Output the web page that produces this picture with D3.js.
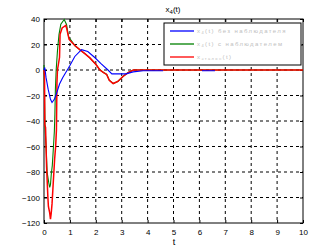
<!DOCTYPE html>
<html>
<head>
<meta charset="utf-8">
<script src="https://cdn.jsdelivr.net/npm/d3@7"></script>
<style>
  body { margin: 0; background: #fff; }
  svg { display: block; font-family: "Liberation Sans", Arial, sans-serif; }
</style>
</head>
<body>
<svg id="chart" width="336" height="252"></svg>
<script>
// values
const xTicks = [0, 1, 2, 3, 4, 5, 6, 7, 8, 9, 10];
const yTicks = [-120, -100, -80, -60, -40, -20, 0, 20, 40];

// x4(t) without observer (blue)
const blueT = [0, 0.03, 0.08, 0.16, 0.25, 0.31, 0.4, 0.49, 0.6, 0.72, 0.84, 0.9, 1.0, 1.19, 1.45, 1.69, 1.96, 2.2, 2.47, 2.62, 3.17, 3.44, 3.83, 4.6, null, 6.1, 6.6];
const blueV = [0, 2, -6, -15, -23, -25.5, -23, -18, -11, -6, -2, 0, 3.5, 10.6, 16, 14.5, 9.8, 5, 0, -3, -3, -1.5, 0, 0, null, 0, 0];

// x4(t) with observer (green)
const greenT = [0, 0.02, 0.04, 0.08, 0.12, 0.18, 0.22, 0.25, 0.28, 0.32, 0.36, 0.4, 0.42, 0.44, 0.47, 0.52, 0.58, 0.65, 0.78, 0.87, 0.95, 1.2, 1.38, 1.6, 1.77, 2.0, 2.16, 2.3, 2.42, 2.52, 2.67, 2.85, 3.06, 3.25, 3.45, 10];
const greenV = [4, -20, -45, -60, -80, -88, -92, -90, -82, -75, -62, -48, -35, -15, 0, 15, 28, 36, 39.6, 35.7, 26, 19, 16, 12.5, 9.5, 4.5, 0, -2, -3.5, -8, -10.6, -9, -4.9, -2, 0, 0];

// reference (red)
const redT = [0, 0.02, 0.03, 0.06, 0.1, 0.15, 0.17, 0.22, 0.25, 0.28, 0.31, 0.35, 0.41, 0.45, 0.48, 0.5, 0.52, 0.6, 0.62, 0.7, 0.84, 0.87, 0.97, 1.2, 1.38, 1.6, 1.77, 2.0, 2.16, 2.3, 2.42, 2.52, 2.67, 2.85, 3.06, 3.25, 3.45, 10];
const redV = [0, -5, -43, -45, -76, -100, -107, -112, -117, -112, -105, -91, -70, -60, -47, -10, 0, 10, 28, 33, 35, 33, 24, 19, 16, 12.5, 9.5, 4.5, 0, -2, -3.5, -8, -10.6, -9, -4.9, -2, 0, 0];

const legendLabels = ["без наблюдателя", "с наблюдателем", ""];

const svg = d3.select("#chart");
const margin = { top: 19, right: 33, bottom: 29, left: 44 };
const width = 336 - margin.left - margin.right;
const height = 252 - margin.top - margin.bottom;

const x = d3.scaleLinear().domain([0, 10]).range([0, width]);
const y = d3.scaleLinear().domain([-120, 40]).range([height, 0]);

const g = svg.append("g").attr("transform", `translate(${margin.left},${margin.top})`);

// dashed grid
g.selectAll(".vgrid").data(xTicks.slice(1, -1)).enter().append("line")
  .attr("x1", d => x(d)).attr("x2", d => x(d))
  .attr("y1", 0).attr("y2", height)
  .attr("stroke", "#000").attr("stroke-dasharray", "3,3");
g.selectAll(".hgrid").data(yTicks.slice(1, -1)).enter().append("line")
  .attr("y1", d => y(d)).attr("y2", d => y(d))
  .attr("x1", 0).attr("x2", width)
  .attr("stroke", "#000").attr("stroke-dasharray", "3,3");

// axes
g.append("g").attr("transform", `translate(0,${height})`)
  .call(d3.axisBottom(x).tickValues(xTicks).tickSize(-3).tickPadding(6));
g.append("g")
  .call(d3.axisLeft(y).tickValues(yTicks).tickSize(-3).tickPadding(4));
g.append("g").call(d3.axisTop(x).tickValues(xTicks).tickSize(-3).tickFormat(""));
g.append("g").attr("transform", `translate(${width},0)`)
  .call(d3.axisRight(y).tickValues(yTicks).tickSize(-3).tickFormat(""));
g.selectAll(".domain").remove();
g.selectAll(".tick text").attr("font-size", 8).attr("fill", "#000")
  .attr("font-family", "Liberation Sans, Arial, sans-serif");

g.append("rect").attr("width", width).attr("height", height)
  .attr("fill", "none").attr("stroke", "#000");

// curves
const line = d3.line()
  .defined(d => d[0] !== null)
  .x(d => x(d[0])).y(d => y(d[1]));
const plot = g.append("g");
plot.append("path").datum(d3.zip(greenT, greenV))
  .attr("d", line).attr("fill", "none").attr("stroke", "#008000").attr("stroke-width", 1.1);
plot.append("path").datum(d3.zip(redT, redV))
  .attr("d", line).attr("fill", "none").attr("stroke", "#ff0000").attr("stroke-width", 1.5);
plot.append("path").datum(d3.zip(blueT, blueV).map(d => d[0] === null ? d : [d[0], d[1] - (d[0] > 3.8 ? 0.6 : 0)]))
  .attr("d", line).attr("fill", "none").attr("stroke", "#0000ff").attr("stroke-width", 1.1);

// title and x label
const title = svg.append("text").attr("x", 173).attr("y", 12)
  .attr("text-anchor", "middle").attr("font-size", 8);
title.append("tspan").text("x");
title.append("tspan").attr("font-size", 6).attr("dy", 2).text("4");
title.append("tspan").attr("dy", -2).text("(t)");

svg.append("text").attr("x", 174).attr("y", 245)
  .attr("text-anchor", "middle").attr("font-size", 9).text("t");

// legend
const legend = svg.append("g").attr("transform", "translate(164,23)");
legend.append("rect").attr("width", 137).attr("height", 42)
  .attr("fill", "#fff").attr("stroke", "#000");
const legendColors = ["#0000ff", "#008000", "#ff0000"];
legendColors.forEach((c, i) => {
  const ly = 8 + i * 13;
  legend.append("line").attr("x1", 6).attr("x2", 30).attr("y1", ly).attr("y2", ly)
    .attr("stroke", c).attr("stroke-width", 1.3);
  const t = legend.append("text").attr("x", 33).attr("y", ly + 2)
    .attr("font-size", 6).attr("fill", "#c0c0c0").attr("letter-spacing", 1.4);
  t.append("tspan").text("x");
  if (i < 2) {
    t.append("tspan").attr("font-size", 4).attr("dy", 1).text("4");
    t.append("tspan").attr("dy", -1).text("(t) " + legendLabels[i]);
  } else {
    t.append("tspan").attr("font-size", 4).attr("dy", 1).text("эталон");
    t.append("tspan").attr("dy", -1).text("(t)");
  }
});
</script>
</body>
</html>
